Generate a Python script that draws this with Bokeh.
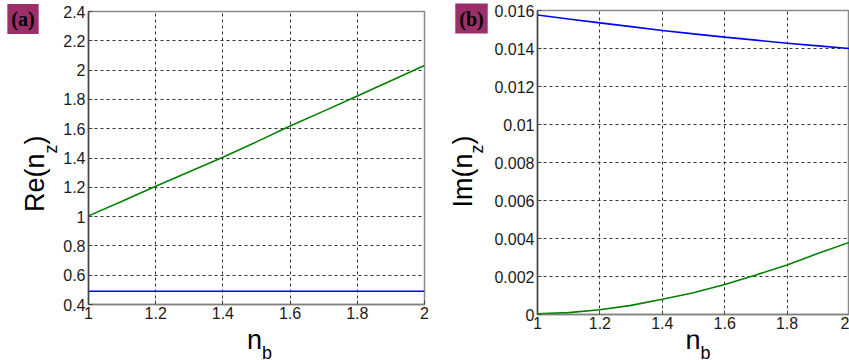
import math
from bokeh.plotting import figure
from bokeh.layouts import row, column
from bokeh.models import Range1d, FixedTicker, CustomJSTickFormatter, Label
from bokeh.embed import file_html
from bokeh.resources import INLINE

# ---- data ----
n_b = [1.0, 1.1, 1.2, 1.3, 1.4, 1.5, 1.6, 1.7, 1.8, 1.9, 2.0]
re_green = [1.005, 1.105, 1.207, 1.306, 1.405, 1.51, 1.618, 1.72, 1.823, 1.927, 2.031]
re_blue = [0.49, 0.49, 0.49, 0.49, 0.49, 0.49, 0.49, 0.49, 0.49, 0.49, 0.49]
im_blue = [0.01576, 0.01555, 0.01535, 0.01515, 0.01495, 0.01477, 0.0146, 0.01444, 0.01428, 0.01414, 0.0140]
im_green = [0.00004, 0.0001, 0.00025, 0.00048, 0.0008, 0.00114, 0.00158, 0.00208, 0.00261, 0.00322, 0.0038]

x_ticks = [1.0, 1.2, 1.4, 1.6, 1.8, 2.0]
re_ticks = [0.4, 0.6, 0.8, 1.0, 1.2, 1.4, 1.6, 1.8, 2.0, 2.2, 2.4]
im_ticks = [0.0, 0.002, 0.004, 0.006, 0.008, 0.01, 0.012, 0.014, 0.016]

FONT = "Liberation Sans"
BADGE = "#9b2f69"
BLUE = "#0000ff"
GREEN = "#008000"
H = 360
UP = math.pi / 2

fmt = "return parseFloat(tick.toFixed(6)).toString();"


def style(p, yticks):
    p.xaxis.ticker = FixedTicker(ticks=x_ticks)
    p.yaxis.ticker = FixedTicker(ticks=yticks)
    for ax in (p.xaxis[0], p.yaxis[0]):
        ax.formatter = CustomJSTickFormatter(code=fmt)
        ax.major_label_text_font = FONT
        ax.major_label_text_font_size = "16px"
        ax.major_label_text_color = "#1a1a1a"
        ax.major_tick_in = 4
        ax.major_tick_out = 0
        ax.minor_tick_line_color = None
        ax.major_tick_line_color = "#444444"
    p.xaxis.major_label_standoff = 2
    p.yaxis.major_label_standoff = 3
    p.xaxis.axis_line_color = "#808080"
    p.yaxis.axis_line_color = "#444444"
    p.xaxis.axis_line_width = 1.5
    p.yaxis.axis_line_width = 1.5
    p.xgrid.ticker = FixedTicker(ticks=x_ticks)
    p.ygrid.ticker = FixedTicker(ticks=yticks)
    for g in (p.xgrid[0], p.ygrid[0]):
        g.grid_line_color = "#333333"
        g.grid_line_dash = "3 3"
        g.grid_line_width = 1
    p.outline_line_color = "#8a8a8a"
    p.outline_line_width = 1.5
    p.background_fill_color = "white"
    p.border_fill_color = "white"


def canvas(w, h):
    """blank figure used to hold the axis titles"""
    c = figure(width=w, height=h, output_backend="svg", toolbar_location=None,
               x_range=Range1d(0, w), y_range=Range1d(0, h),
               x_axis_type=None, y_axis_type=None,
               min_border_left=0, min_border_right=0, min_border_top=0, min_border_bottom=0)
    c.outline_line_color = None
    c.background_fill_color = "white"
    c.border_fill_color = "white"
    return c


def txt(c, x, y, text, size, angle=0.0, font=FONT, style_="normal", bg=None, pad=0):
    kw = {}
    if bg is not None:
        kw = dict(background_fill_color=bg, padding=pad)
    c.add_layout(Label(x=x, y=y, text=text, text_font=font, text_font_size=size,
                       text_font_style=style_, text_align="center", text_baseline="middle",
                       angle=angle, text_color="black", **kw))


# ---- left panel ----
pa = figure(width=370, height=330, output_backend="svg", toolbar_location=None,
            x_range=Range1d(1, 2), y_range=Range1d(0.4, 2.4),
            min_border_left=26, min_border_right=6, min_border_top=11, min_border_bottom=26)
style(pa, re_ticks)
pa.line(n_b, re_blue, line_color=BLUE, line_width=1.6)
pa.line(n_b, re_green, line_color=GREEN, line_width=1.6)

ya = canvas(60, H)
txt(ya, 34.6, 177.7, "Re(n", "27px", angle=UP)
txt(ya, 50.5, 211.5, "z", "18px", angle=UP)
txt(ya, 34.6, 220.6, ")", "27px", angle=UP)
txt(ya, 22.5, 341.5, "(a)", "20px", font="Liberation Serif", style_="bold", bg=BADGE, pad=4)

xa = canvas(370, 30)
txt(xa, 182.8, 20.4, "n", "27px")
txt(xa, 196.5, 7.2, "b", "18px")

# ---- right panel ----
pb = figure(width=359, height=334, output_backend="svg", toolbar_location=None,
            x_range=Range1d(1, 2), y_range=Range1d(0, 0.016),
            min_border_left=47, min_border_right=0, min_border_top=10, min_border_bottom=20)
style(pb, im_ticks)
pb.line(n_b, im_blue, line_color=BLUE, line_width=1.6)
pb.line(n_b, im_green, line_color=GREEN, line_width=1.6)

yb = canvas(60, H)
txt(yb, 32.6, 180, "Im(n", "27px", angle=UP)
txt(yb, 46.8, 211.5, "z", "18px", angle=UP)
txt(yb, 32.6, 220.6, ")", "27px", angle=UP)
txt(yb, 41, 342, "(b)", "20px", font="Liberation Serif", style_="bold", bg=BADGE, pad=4)

xb = canvas(359, 26)
txt(xb, 178.9, 20.4, "n", "27px")
txt(xb, 193.3, 7.2, "b", "18px")

layout = row(ya, column(pa, xa), yb, column(pb, xb))
open("out.html", "w").write(file_html(layout, INLINE))
